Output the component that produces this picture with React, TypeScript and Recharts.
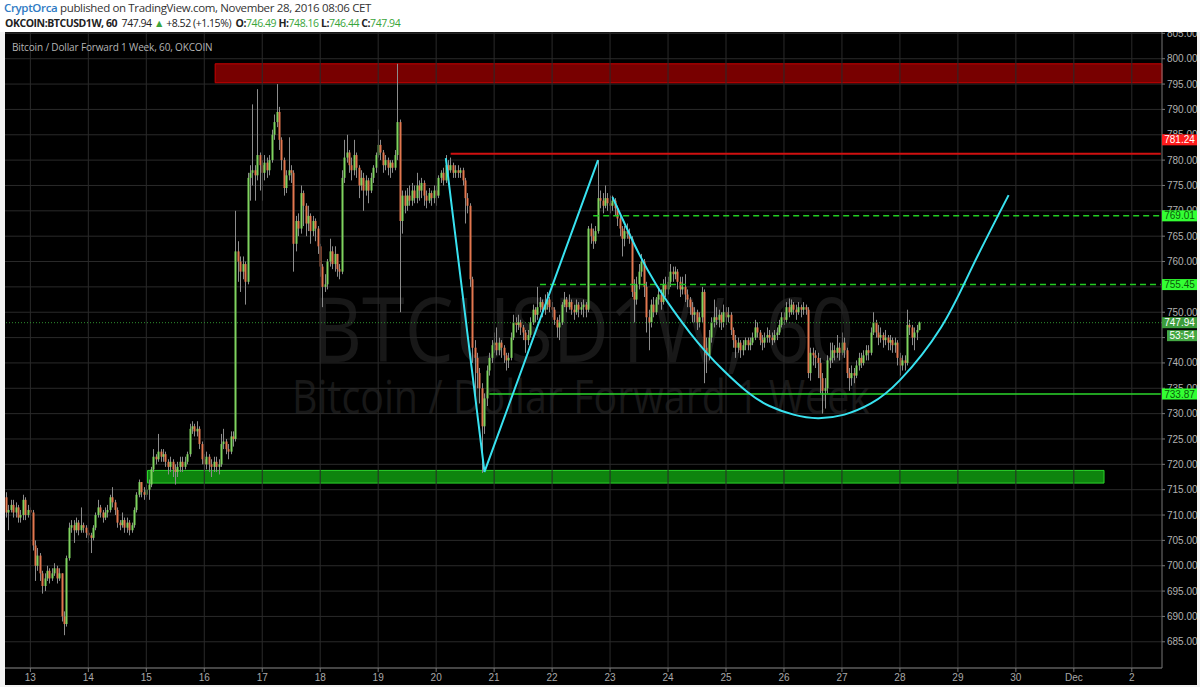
import React from 'react';
import {
  ComposedChart,
  Bar,
  Line,
  XAxis,
  YAxis,
  CartesianGrid,
  ReferenceLine,
  ReferenceArea,
} from 'recharts';

// one hourly candle: [close, high, low]; the open is the previous close
type Candle = [number, number, number];

const FIRST_OPEN = 713.5;
const FIRST_HOUR = -10; // hours counted from Nov 13 00:00
const LAST_SLOT = 468; // empty slots run on to the right edge (Dec 2 + 12h)

const nov12: Candle[] = [
  [710.5, 714.5, 709.5], [711, 712, 707], [712, 713, 710.5], [710.5, 713, 709.5], [711.5, 712.5, 709.5],
  [709.5, 712, 708.5], [710, 711, 708.5], [713, 714, 709], [710, 713.5, 709], [711, 712, 709.5],
];
const nov13: Candle[] = [
  [710.5, 711.5, 709], [704, 711, 703], [700, 705, 697], [702, 703.5, 699], [698.5, 702.5, 697],
  [696, 699, 694.5], [697.5, 698.5, 695], [699, 700, 697], [697.5, 699.5, 696.5], [698.5, 699.5, 697],
  [699.5, 700.5, 698], [697.5, 700, 696.5], [698.5, 699.5, 697], [690, 698.5, 689], [688.5, 691, 686.3],
  [701.5, 702, 688], [707.5, 708.5, 701], [708, 709, 706.5], [707, 709, 704.5], [708.5, 709.5, 706.5],
  [707, 709, 706], [708, 711.5, 706.5], [707.5, 708.5, 706.5], [706.5, 708, 705.5],
];
const nov14: Candle[] = [
  [706, 707, 704.5], [705.5, 706.5, 702.5], [707.5, 708, 705], [710, 710.5, 707], [711.5, 713, 709.5],
  [710.5, 712, 709.5], [709.5, 711, 708.5], [710.5, 711.5, 709], [711, 712, 709.5], [713.5, 714, 710.5],
  [712.5, 715.5, 711.5], [711, 713, 710], [708.5, 711.5, 707.5], [708, 709, 707], [709, 710.5, 707.5],
  [707.5, 709.5, 706.5], [708.5, 709.5, 706.5], [707, 709, 706], [708, 708.5, 706.5], [711, 711.5, 707.5],
  [714, 714.5, 710.5], [716.5, 717, 713.5], [714.5, 716.5, 713.5], [714, 715.5, 713],
];
const nov15: Candle[] = [
  [715, 716, 713.5], [716, 717, 713], [719, 719.5, 715.5], [721.5, 723, 718.5], [721, 722, 720],
  [722.5, 726, 720.5], [721.5, 723, 720.5], [722, 723, 720.5], [720.5, 722.5, 719.5], [719.5, 721, 718],
  [720.5, 721.5, 718.5], [719, 721, 717.5], [718.5, 720, 716], [719.5, 720.5, 717.5], [720.5, 721.5, 718.5],
  [719.5, 721.5, 718.5], [720.5, 721.5, 719], [722, 722.5, 720], [727, 728, 721.5], [727.5, 728.5, 726],
  [726.5, 728, 725.5], [727, 728.5, 725.5], [724, 727.5, 723], [721, 724.5, 720],
];
const nov16: Candle[] = [
  [720, 722, 718.5], [721.5, 722.5, 719], [720, 722, 718.5], [719.5, 721, 717.5], [720.5, 721.5, 718.5],
  [719.5, 721.5, 718.5], [720, 721, 718], [724, 726, 719.5], [724.5, 727, 723], [723, 725, 722],
  [722.5, 724, 721], [725.5, 726.5, 722], [725, 726.5, 723.5], [762, 770, 724.5], [760, 764, 756],
  [758, 761, 754], [759.5, 761, 756.5], [756, 760, 751.5], [776.5, 777.5, 755.5], [777.5, 779, 772],
  [778, 791, 775], [777, 779, 772], [781, 794, 776], [779, 781.5, 774],
];
const nov17: Candle[] = [
  [777.5, 780, 772], [779.5, 781, 776], [778, 780.5, 776.5], [780, 781, 777], [785, 786, 779.5],
  [787.5, 789, 784], [789.5, 795, 786.5], [784, 790.5, 782], [780, 784.5, 778], [774.5, 780.5, 773],
  [777, 778, 773.5], [778, 784.5, 776], [777.5, 779, 775.5], [763.5, 778, 758], [768, 769, 762],
  [766.5, 769.5, 765], [773.5, 775, 765.5], [771, 774, 767], [767.5, 771.5, 765], [769, 771, 766],
  [766, 769.5, 763.5], [768, 769, 765], [766.5, 768.5, 764], [763, 767, 761.5],
];
const nov18: Candle[] = [
  [759, 763.5, 757], [755, 759.5, 751], [755.5, 757.5, 754], [760, 760.5, 754.5], [762, 764.5, 759],
  [759.5, 763, 758.5], [761.5, 763, 758], [758.5, 761.5, 757], [758, 759.5, 756.5], [776.5, 778, 757.5],
  [780.5, 784, 775.5], [781.5, 785, 779.5], [779, 782, 777.5], [778, 780.5, 776], [781, 784, 777],
  [778.5, 781.5, 776.5], [775, 779, 772.5], [776.5, 778, 774], [774, 777.5, 770], [776, 777, 773],
  [774, 776.5, 771.5], [776.5, 777.5, 773.5], [778.5, 779, 775.5], [781, 781.5, 777.5],
];
const nov19: Candle[] = [
  [783, 786, 780.5], [781.5, 784, 780], [779, 782, 777.5], [780, 781, 778], [778.5, 780.5, 777],
  [779.5, 780, 776.5], [778.5, 780, 777.5], [781, 782, 778], [787.5, 799, 780], [768, 788, 750],
  [773, 774, 765.5], [771, 774, 769.5], [773, 774.5, 770], [772, 775, 771], [774, 775.5, 771],
  [772.5, 775, 771.5], [775, 777.5, 771.5], [774, 776, 772], [775.5, 776.5, 772.5], [773, 776, 771],
  [772, 774, 770.5], [773.5, 774.5, 771.5], [772.5, 774, 771], [774, 775, 771.5],
];
const nov20: Candle[] = [
  [773, 775, 771], [776.5, 777, 772.5], [777.5, 778, 775.5], [776, 778.5, 775], [779, 781, 775.5],
  [778, 780, 777], [779, 780.5, 777.5], [777.5, 779.5, 776.5], [778, 779, 776.5], [777.5, 779, 776.5],
  [778, 778.5, 776.5], [776, 778.5, 775], [772.5, 776.5, 767.5], [771, 773.5, 769.5], [756.5, 771.5, 755],
  [743, 757, 740], [741, 744.5, 733], [738, 742, 735], [735, 739, 732], [727.5, 736, 718.3],
  [733, 734, 726], [738.5, 739.5, 731.5], [741, 742, 737.5], [743.5, 744.5, 740],
];
const nov21: Candle[] = [
  [744, 746, 742], [742.5, 747, 741.5], [744, 745, 741.5], [743, 744.5, 741], [741.5, 743.5, 740],
  [740.5, 742, 738.5], [741, 742, 739], [745, 746, 740.5], [748, 749.5, 744.5], [747.5, 749, 746],
  [748, 749.5, 746.5], [747, 748.5, 745.5], [746, 747.5, 744.5], [744.5, 746.5, 742], [745.5, 746.5, 743.5],
  [748, 749, 745], [750.5, 751.5, 747.5], [749.5, 751, 748], [751, 755, 748.5], [752, 753, 750],
  [750.5, 752.5, 749], [751.5, 753.5, 749.5], [752.5, 754, 750.5], [751, 753, 750],
];
const nov22: Candle[] = [
  [750.5, 752, 749], [748.5, 751, 747.5], [747, 749, 745], [748, 749.5, 744.5], [751.5, 752, 747.5],
  [752.5, 754, 751], [751, 753, 750], [752, 753.5, 750.5], [750.5, 752.5, 749.5], [750, 751.5, 748.5],
  [751.5, 752.5, 749.5], [750.5, 752, 749], [751, 752, 749.5], [751.5, 752.5, 749], [750.5, 752, 749],
  [766.5, 767, 750], [765, 767.5, 763.5], [764, 766.5, 762.5], [766, 767, 763.5], [772.5, 780, 765.5],
  [772, 774, 770.5], [771, 773.5, 769.5], [772.5, 775, 770.5], [771.5, 773.5, 770],
];
const nov23: Candle[] = [
  [771, 773, 769.5], [772, 773, 770], [770.5, 772.5, 769], [768.5, 771, 767], [766.5, 769, 765],
  [764.5, 767, 761], [766, 767, 763], [765.5, 767.5, 764.5], [764.5, 766.5, 763.5], [754, 765, 753],
  [752.5, 756.5, 748], [755.5, 757, 751.5], [758, 759.5, 754.5], [760, 761.5, 757], [755, 760.5, 753],
  [749, 756, 746], [748, 750.5, 742.5], [751.5, 752.5, 747], [750, 753, 749], [752.5, 753, 749.5],
  [753.5, 755, 751.5], [752, 754.5, 750.5], [755.5, 756.5, 751.5], [754.5, 757, 753],
];
const nov24: Candle[] = [
  [756, 757, 753.5], [758, 759.5, 755], [757.5, 759, 756], [758, 759, 756.5], [756, 758.5, 754.5],
  [754.5, 757, 753], [755, 757, 753.5], [753.5, 757.5, 752], [752.5, 754.5, 751], [751, 753, 749.5],
  [749.5, 752, 748], [750, 751, 748], [748, 750.5, 746.5], [749, 750, 747], [754, 755, 748],
  [743, 754.5, 736], [741.5, 745, 738], [745, 746.5, 740.5], [748, 749, 744], [749, 752.5, 747],
  [748.5, 751, 747.5], [749.5, 750.5, 747], [748, 750, 746.5], [750, 751.5, 747],
];
const nov25: Candle[] = [
  [749, 751, 747.5], [749.5, 751, 748], [746.5, 750, 745.5], [744.5, 747, 743], [743, 745.5, 741],
  [744, 745, 742], [742.5, 744.5, 741], [743.5, 744.5, 741.5], [744.5, 745, 742.5], [743.5, 745, 742.5],
  [744, 745, 742.5], [745, 746, 743.5], [747, 748.5, 744.5], [746, 748, 745], [744.5, 746.5, 743.5],
  [744, 745.5, 742.5], [745, 746, 743], [745.5, 747, 744], [745, 746.5, 744], [744.5, 746, 743.5],
  [745.5, 746.5, 744], [746, 747, 744.5], [747.5, 748.5, 745.5], [749, 750, 747],
];
const nov26: Candle[] = [
  [748.5, 750, 747.5], [751, 752, 748], [750, 752.7, 749], [751.5, 752.5, 749.5], [750.5, 752, 749.5],
  [750, 751.5, 748.5], [751, 752, 749.5], [750.5, 751.5, 749], [751, 752, 749.5], [750.5, 751.5, 749.5],
  [738, 751, 737], [742, 743, 736.5], [741.5, 743, 739.5], [741, 742.5, 739], [740, 742, 737],
  [737, 741, 734], [734.5, 738, 730], [735, 737, 731], [740.5, 741.5, 734], [741, 744, 739],
  [742.5, 744, 740], [742, 743.5, 740.5], [743, 745.5, 741], [742, 744, 740.5],
];
const nov27: Candle[] = [
  [744, 746, 741.5], [742.5, 745, 741], [738, 743, 737], [737, 739, 734.5], [738, 739.5, 735.5],
  [737.5, 739, 736], [739.5, 740.5, 737], [741, 742, 738.5], [740, 742, 739], [741.5, 742.5, 739.5],
  [742.5, 743.5, 740.5], [742, 743.5, 740.5], [746, 747, 741.5], [748, 750, 745.5], [746, 748.5, 745],
  [745, 747.5, 743.5], [745.5, 747, 744], [744.5, 746, 743], [745, 746.5, 743.5], [744, 745.5, 742.5],
  [744.5, 745.5, 742.5], [743.5, 745, 742], [744, 745, 742], [741, 744.5, 739.5],
];
const nov28: Candle[] = [
  [739.5, 742, 737.5], [740.5, 741.5, 738.5], [740, 741.5, 738.5], [747.5, 750.5, 739.5], [747, 748.5, 745.5],
  [745, 747.5, 743.5], [746, 747, 742.5], [746.49, 747.5, 744.5], [747.94, 748.16, 746.44],
];

const DAYS = [nov12, nov13, nov14, nov15, nov16, nov17, nov18, nov19, nov20, nov21, nov22, nov23, nov24, nov25, nov26, nov27, nov28];

const DAY_TICKS = [0, 24, 48, 72, 96, 120, 144, 168, 192, 216, 240, 264, 288, 312, 336, 360, 384, 408, 432, 456];
const DAY_LABELS = ['13', '14', '15', '16', '17', '18', '19', '20', '21', '22', '23', '24', '25', '26', '27', '28', '29', '30', 'Dec', '2'];
const PRICE_TICKS = [685, 690, 695, 700, 705, 710, 715, 720, 725, 730, 735, 740, 745, 750, 755, 760, 765, 770, 775, 780, 785, 790, 795, 800, 805];
const Y_MIN = 679.83;
const Y_MAX = 805.27;

// drawings on the chart (hour, price)
const zigHours = [172, 188, 235];
const zigPrices = [780.4, 718.5, 780.0];
const arcHours = [241, 246, 252, 259, 266, 273, 280, 287, 297, 306, 316, 326, 337, 348, 360, 377, 390, 405];
const arcPrices = [772.7, 767.5, 761.5, 755.5, 750.5, 746, 742, 738.5, 734.2, 731.5, 729.8, 729.1, 729.8, 732, 736.6, 747, 759, 773.1];

const LAST_PRICE = 747.94;

const UP = '#7fd35f';
const DOWN = '#e2774f';
const WICK = '#8c8c8c';
const GRID = '#2a2a2a';
const CYAN = '#38e2f0';
const AXIS_FONT = "'Liberation Sans', Arial, sans-serif";

const candles = DAYS.flat();
const rows: any[] = [];
let prevClose = FIRST_OPEN;
for (let t = FIRST_HOUR; t <= LAST_SLOT; t++) {
  const row: any = { t };
  const c = candles[t - FIRST_HOUR];
  if (c) {
    row.open = prevClose;
    row.close = c[0];
    row.high = c[1];
    row.low = c[2];
    row.range = [c[2], c[1]];
    prevClose = c[0];
  }
  rows.push(row);
}
zigHours.forEach((h, i) => { rows[h - FIRST_HOUR].zig = zigPrices[i]; });
arcHours.forEach((h, i) => { rows[h - FIRST_HOUR].arc = arcPrices[i]; });

const renderCandle = (p: any) => {
  const { x, payload } = p;
  let { y, width, height } = p;
  if (!payload || payload.close == null || !isFinite(y) || !isFinite(height)) return <g />;
  if (height < 0) { y += height; height = -height; }
  const { open, close, high, low } = payload;
  const ppu = high > low ? height / (high - low) : 0;
  const yO = y + (high - open) * ppu;
  const yC = y + (high - close) * ppu;
  const up = close >= open;
  const cx = Math.round(x + width / 2);
  const top = Math.min(yO, yC);
  const bh = Math.max(1, Math.abs(yC - yO));
  return (
    <g>
      <line x1={cx + 0.5} x2={cx + 0.5} y1={y} y2={y + height} stroke={WICK} strokeWidth={1} />
      <rect x={cx - 0.5} y={top} width={2} height={bh} fill={up ? UP : DOWN} />
    </g>
  );
};

const renderDayTick = (p: any) => {
  const i = DAY_TICKS.indexOf(Number(p.payload?.value));
  if (i < 0) return <g />;
  return (
    <g>
      <line x1={p.x} x2={p.x} y1={p.y - 4} y2={p.y} stroke="#777" />
      <text x={p.x} y={p.y + 8.5} textAnchor="middle" fill="#a8a8a8" fontSize={10} fontFamily={AXIS_FONT}>
        {DAY_LABELS[i]}
      </text>
    </g>
  );
};

const badge = (text: string, bg: string, fg: string, dy = 0, dx = 0) => (p: any) => {
  const vb = p.viewBox || {};
  const x0 = vb.x + vb.width + dx;
  const yc = vb.y + dy;
  return (
    <g>
      <rect x={x0} y={yc - 5.5} width={35 - dx} height={11} fill={bg} />
      <text x={x0 + (35 - dx) / 2} y={yc + 3.6} textAnchor="middle" fontSize={10} fill={fg} fontFamily={AXIS_FONT}>
        {text}
      </text>
    </g>
  );
};

const Header = () => (
  <div style={{ position: 'absolute', left: 0, top: 0, width: 1200, height: 32, background: '#fff', fontFamily: "'Open Sans', sans-serif", color: '#333' }}>
    <div style={{ position: 'absolute', left: 4, top: 0, fontSize: 11.5, letterSpacing: -0.35, whiteSpace: 'nowrap' }}>
      <span style={{ color: '#2f7bc4', fontWeight: 600 }}>CryptOrca</span> published on TradingView.com, November 28, 2016 08:06 CET
    </div>
    <div style={{ position: 'absolute', left: 5, top: 16, fontSize: 10.5, letterSpacing: -0.45, whiteSpace: 'nowrap', color: '#222' }}>
      <b>OKCOIN:BTCUSD1W, 60</b>&nbsp; 747.94 <span style={{ color: '#3aa53a' }}>▲</span> +8.52 (+1.15%)&nbsp; <b>O:</b>
      <span style={{ color: '#3aa53a' }}>746.49</span> <b>H:</b><span style={{ color: '#3aa53a' }}>748.16</span> <b>L:</b>
      <span style={{ color: '#3aa53a' }}>746.44</span> <b>C:</b><span style={{ color: '#3aa53a' }}>747.94</span>
    </div>
  </div>
);

export default function App() {
  const chartProps = {
    width: 1192,
    height: 653,
    data: rows,
    margin: { top: 0, right: 0, bottom: 0, left: 0 },
  };
  return (
    <div style={{ position: 'absolute', left: 0, top: 0, width: 1200, height: 687, background: '#f2f2f2', overflow: 'hidden' }}>
      <Header />
      <div style={{ position: 'absolute', left: 5, top: 32, width: 1192, height: 653, background: '#000' }} />
      <svg width={1200} height={687} style={{ position: 'absolute', left: 0, top: 0 }}>
        <text x={583} y={362} textAnchor="middle" fontSize={90} textLength={542} lengthAdjust="spacingAndGlyphs" fill="#181818" fontFamily="'Open Sans', sans-serif">
          BTCUSD1W, 60
        </text>
        <text x={581} y={414} textAnchor="middle" fontSize={48} textLength={578} lengthAdjust="spacingAndGlyphs" fill="#181818" fontFamily="'Open Sans', sans-serif">
          Bitcoin / Dollar Forward 1 Week
        </text>
      </svg>
      <div style={{ position: 'absolute', left: 5, top: 32 }}>
        <ComposedChart {...chartProps} barCategoryGap={0}>
          <CartesianGrid vertical={false} stroke={GRID} />
          {DAY_TICKS.map((t) => (
            <ReferenceLine key={'v' + t} x={t} stroke={GRID} />
          ))}
          <XAxis dataKey="t" interval={0} tick={renderDayTick} tickLine={false} tickSize={4} tickMargin={0} axisLine={{ stroke: '#777' }} height={17} />
          <YAxis
            orientation="right"
            width={35}
            domain={[Y_MIN, Y_MAX]}
            allowDataOverflow
            ticks={PRICE_TICKS}
            interval={0}
            tickFormatter={(v: number) => v.toFixed(2)}
            tick={{ fill: '#b0b0b0', fontSize: 10, fontFamily: AXIS_FONT }}
            tickSize={3}
            tickMargin={2}
            tickLine={{ stroke: '#777' }}
            axisLine={{ stroke: '#777' }}
          />
          <Bar dataKey="range" shape={renderCandle} isAnimationActive={false} />
          <ReferenceArea x1={77} y1={795.26} y2={799.0} fill="#780000" fillOpacity={1} stroke="#c80000" strokeWidth={1} />
          <ReferenceArea x1={49} x2={444} y1={716.3} y2={718.8} fill="#0f8f0f" fillOpacity={0.92} stroke="#2bd42b" strokeWidth={1} />
          <ReferenceLine segment={[{ x: 174, y: 781.24 }, { x: LAST_SLOT, y: 781.24 }]} stroke="#d01010" strokeWidth={2} />
          <ReferenceLine segment={[{ x: 233, y: 769.01 }, { x: LAST_SLOT, y: 769.01 }]} stroke="#22cc22" strokeWidth={1.5} strokeDasharray="6 4" />
          <ReferenceLine segment={[{ x: 211, y: 755.45 }, { x: LAST_SLOT, y: 755.45 }]} stroke="#22cc22" strokeWidth={1.5} strokeDasharray="6 4" />
          <ReferenceLine segment={[{ x: 190, y: 733.87 }, { x: LAST_SLOT, y: 733.87 }]} stroke="#2bd62b" strokeWidth={1.5} />
          <ReferenceLine y={LAST_PRICE} stroke="#2e8f2e" strokeDasharray="1 2" />
          <Line dataKey="zig" type="linear" stroke={CYAN} strokeWidth={2} dot={false} connectNulls isAnimationActive={false} />
          <Line dataKey="arc" type="natural" stroke={CYAN} strokeWidth={2} dot={false} connectNulls isAnimationActive={false} />
        </ComposedChart>
      </div>
      {/* price badges sit above the axis labels, so they get their own layer */}
      <div style={{ position: 'absolute', left: 5, top: 32, pointerEvents: 'none' }}>
        <ComposedChart {...chartProps}>
          <XAxis dataKey="t" tick={false} tickLine={false} axisLine={false} height={17} />
          <YAxis orientation="right" width={35} domain={[Y_MIN, Y_MAX]} allowDataOverflow tick={false} tickLine={false} axisLine={false} />
          <ReferenceLine y={781.24} stroke="none" label={badge('781.24', '#ff1c1c', '#fff', -14)} />
          <ReferenceLine y={769.01} stroke="none" label={badge('769.01', '#33ff33', '#0a5a0a')} />
          <ReferenceLine y={755.45} stroke="none" label={badge('755.45', '#33ff33', '#0a5a0a')} />
          <ReferenceLine y={LAST_PRICE} stroke="none" label={badge('747.94', '#3c9c3c', '#fff')} />
          <ReferenceLine y={LAST_PRICE} stroke="none" label={badge('53:54', '#44a844', '#fff', 13, 5)} />
          <ReferenceLine y={733.87} stroke="none" label={badge('733.87', '#33ff33', '#0a5a0a')} />
        </ComposedChart>
      </div>
      <div style={{ position: 'absolute', left: 12, top: 40, fontSize: 10, letterSpacing: -0.15, color: '#b4b4b4', fontFamily: "'Open Sans', sans-serif", whiteSpace: 'nowrap' }}>
        Bitcoin / Dollar Forward 1 Week, 60, OKCOIN
      </div>
    </div>
  );
}
